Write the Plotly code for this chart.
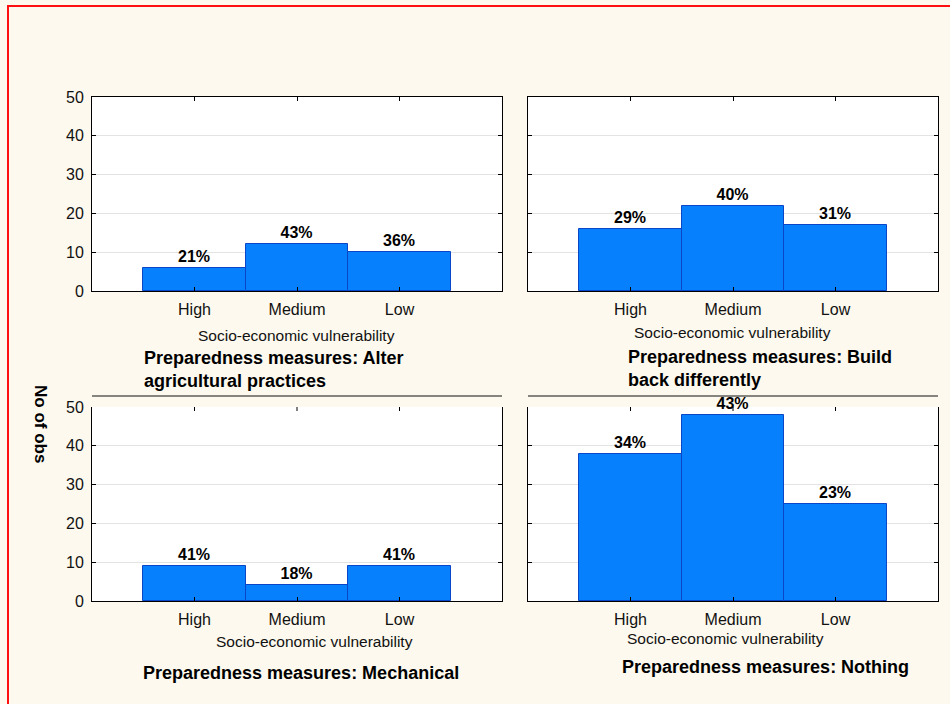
import plotly.graph_objects as go

# Counts of respondents per vulnerability class, for each preparedness measure
categories = ["High", "Medium", "Low"]
alter_agri = [6, 12, 10]
build_back = [16, 22, 17]
mechanical = [9, 4, 9]
nothing = [38, 48, 25]

panel_titles = [
    "Preparedness measures: Alter<br>agricultural practices",
    "Preparedness measures: Build<br>back differently",
    "Preparedness measures: Mechanical",
    "Preparedness measures: Nothing",
]
x_title = "Socio-economic vulnerability"
y_title = "No of obs"
y_ticks = [0, 10, 20, 30, 40, 50]

W, H = 950, 704
BG = "#FDF9EE"
BAR = "#0780FE"
BAR_EDGE = "#0B45C8"
FONT = "Liberation Sans, Arial, sans-serif"


def px(x):
    return x / W


def py(y):
    return 1 - y / H


# panel boxes in pixels: (left, right, top, bottom)
boxes = [
    (92, 502, 97, 291),
    (528, 938, 97, 291),
    (92, 502, 407, 601),
    (528, 938, 407, 601),
]
series = [alter_agri, build_back, mechanical, nothing]

fig = go.Figure()
layout = dict(
    width=W, height=H,
    margin=dict(l=0, r=0, t=0, b=0, pad=0, autoexpand=False),
    paper_bgcolor=BG, plot_bgcolor="white",
    showlegend=False, bargap=0,
    font=dict(family=FONT, color="black", size=16),
)
shapes = []
annotations = []

for i, (vals, box) in enumerate(zip(series, boxes)):
    n = i + 1
    xa = "x" if n == 1 else f"x{n}"
    ya = "y" if n == 1 else f"y{n}"
    total = sum(vals)
    pct = [f"{round(100 * v / total)}%" for v in vals]
    fig.add_trace(go.Bar(
        x=categories, y=vals, xaxis=xa, yaxis=ya,
        marker=dict(color=BAR, line=dict(color=BAR_EDGE, width=1)),
        width=1,
        text=pct, textposition="outside",
        textfont=dict(family=FONT, size=16, color="black", weight="bold"),
        cliponaxis=False, hoverinfo="skip",
    ))
    l, r, t, b = box
    top_row = i < 2
    layout["xaxis" if n == 1 else f"xaxis{n}"] = dict(
        domain=[px(l), px(r)], anchor=ya, range=[-1, 3],
        type="category", showgrid=False, zeroline=False, automargin=False,
        showline=True, linecolor="black", linewidth=1,
        mirror="ticks" if top_row else False,
        ticks="inside", ticklen=4, tickcolor="black",
        tickfont=dict(size=16, color="#111"), ticklabelstandoff=4,
    )
    layout["yaxis" if n == 1 else f"yaxis{n}"] = dict(
        domain=[py(b), py(t)], anchor=xa, range=[0, 50],
        tickvals=y_ticks, showticklabels=(i % 2 == 0), automargin=False,
        showgrid=True, gridcolor="#E3E3E3", gridwidth=1, zeroline=False,
        showline=True, linecolor="black", linewidth=1, mirror="ticks",
        ticks="inside", ticklen=4, tickcolor="black",
        tickfont=dict(size=16, color="#111"), ticklabelstandoff=4,
    )
    if not top_row:
        # short tick marks along the open upper edge of the lower panels
        for c in categories:
            shapes.append(dict(
                type="line", xref=xa, yref="paper",
                x0=c, x1=c, y0=py(t), y1=py(t + 4),
                line=dict(color="black", width=1),
            ))
        # rule above the lower panels
        shapes.append(dict(
            type="line", xref="paper", yref="paper",
            x0=px(l), x1=px(r), y0=py(396), y1=py(396),
            line=dict(color="#111", width=1),
        ))

# axis titles under each panel
for xc, yc in [(296, 335), (732, 332), (314, 641), (725, 638)]:
    annotations.append(dict(
        text=x_title, xref="paper", yref="paper", x=px(xc), y=py(yc),
        xanchor="center", yanchor="middle", showarrow=False,
        font=dict(size=15.5, color="#111"),
    ))

# panel captions
caption_pos = [
    (142, 370, "left"),
    (626, 368, "left"),
    (301, 673, "center"),
    (765, 667, "center"),
]
for txt, (xc, yc, anchor) in zip(panel_titles, caption_pos):
    annotations.append(dict(
        text=f"<b>{txt.replace('<br>', '</b><br><b>')}</b>",
        xref="paper", yref="paper", x=px(xc), y=py(yc),
        xanchor=anchor, yanchor="middle", align="left", showarrow=False,
        font=dict(size=18, color="black"),
    ))

# shared y-axis title
annotations.append(dict(
    text=f"<b>{y_title}</b>", xref="paper", yref="paper",
    x=px(41), y=py(424), textangle=90, showarrow=False,
    xanchor="center", yanchor="middle", font=dict(size=17, color="black"),
))

# outer red frame
shapes.append(dict(
    type="rect", xref="paper", yref="paper",
    x0=px(8), x1=1.05, y0=-0.05, y1=py(6),
    line=dict(color="#FF1010", width=2), fillcolor="rgba(0,0,0,0)",
))

layout["shapes"] = shapes
layout["annotations"] = annotations
fig.update_layout(**layout)
fig.write_html("out.html")
